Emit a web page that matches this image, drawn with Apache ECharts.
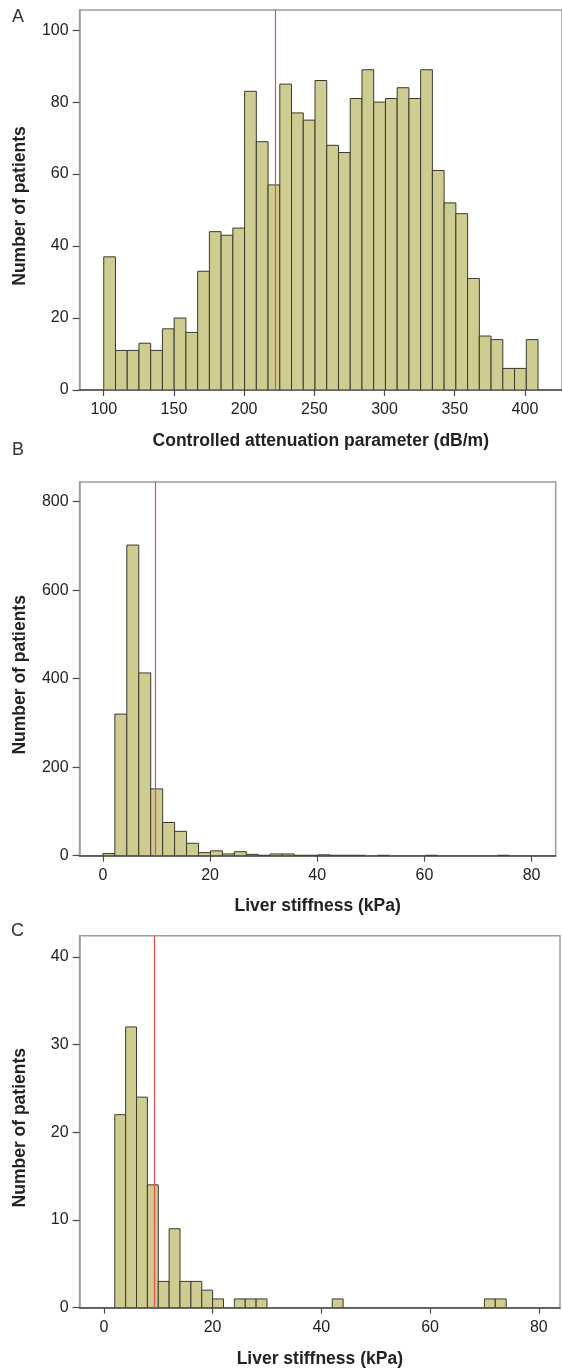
<!DOCTYPE html>
<html>
<head>
<meta charset="utf-8">
<script src="https://cdn.jsdelivr.net/npm/echarts@6/dist/echarts.min.js"></script>
<style>
html,body{margin:0;padding:0;background:#fff;}
#chart{width:562px;height:1371px;}
</style>
</head>
<body>
<div id="chart"></div>
<script>
// ---------- DATA ----------
// Panel A: controlled attenuation parameter histogram
const capBinStart = 100;
const capBinWidth = 8.36;
const capCounts = [37,11,11,13,11,17,20,16,33,44,43,45,83,69,57,85,77,75,86,68,66,81,89,80,81,84,81,89,61,52,49,31,15,14,6,6,14];
const capCutoff = 222;
const capXTicks = [100,150,200,250,300,350,400];
const capYTicks = [0,20,40,60,80,100];

// Panel B: liver stiffness histogram (all patients)
const lsmBinStart = 0;
const lsmBinWidth = 2.23;
const lsmCounts = [5,320,702,413,151,75,55,28,7,11,4,9,3,1,4,4,1,1,2,1,1,1,0,1,0,0,0,1,0,0,0,0,0,1];
const lsmCutoff = 9.7;
const lsmXTicks = [0,20,40,60,80];
const lsmYTicks = [0,200,400,600,800];

// Panel C: liver stiffness histogram (subgroup)
const subBinStart = 2;
const subBinWidth = 2;
const subCounts = [22,32,24,14,3,9,3,3,2,1,0,1,1,1,0,0,0,0,0,0,1,0,0,0,0,0,0,0,0,0,0,0,0,0,1,1];
const subCutoff = 9.3;
const subXTicks = [0,20,40,60,80];
const subYTicks = [0,10,20,30,40];

const panelLabels = ['A','B','C'];
const xTitles = ['Controlled attenuation parameter (dB/m)','Liver stiffness (kPa)','Liver stiffness (kPa)'];
const yTitle = 'Number of patients';

// ---------- BUILD ----------
function bins(start, width, counts){
  return counts.map((c,i)=>[start + i*width, start + (i+1)*width, c]);
}
const FONT = '"Liberation Sans", Arial, sans-serif';
const BAR_FILL = '#cfcc92';
const BAR_STROKE = '#3b3a2c';
const AXIS_COLOR = '#4a4a4a';
const FRAME_COLOR = '#9c9c9c';
const CUT_COLOR = '#ee4b4b';

function renderBar(params, api){
  const c = api.value(2);
  if (!c) return null;
  const p0 = api.coord([api.value(0), 0]);
  const p1 = api.coord([api.value(1), c]);
  return {
    type:'rect',
    shape:{x:p0[0], y:p1[1], width:p1[0]-p0[0], height:p0[1]-p1[1]},
    style:{fill:BAR_FILL, stroke:BAR_STROKE, lineWidth:1}
  };
}

const grids = [
  {left:79.6, top:10, width:485.4, height:380},
  {left:79.6, top:482, width:476.1, height:373.7},
  {left:79.6, top:935.7, width:480.4, height:372}
];
const xRanges = [[82.8,426.4],[-4.35,84.5],[-4.47,83.9]];
const yMax = [105.6, 844.5, 42.4];
const xTickSets = [capXTicks, lsmXTicks, subXTicks];
const yTickSets = [capYTicks, lsmYTicks, subYTicks];
const dataSets = [
  bins(capBinStart, capBinWidth, capCounts),
  bins(lsmBinStart, lsmBinWidth, lsmCounts),
  bins(subBinStart, subBinWidth, subCounts)
];
const cutoffs = [capCutoff, lsmCutoff, subCutoff];
const xNameGaps = [42, 41, 42];
const letterPos = [{left:12, top:8},{left:12, top:441},{left:11, top:922}];

const option = {
  backgroundColor:'#fff',
  animation:false,
  title: panelLabels.map((t,i)=>({
    text:t, left:letterPos[i].left, top:letterPos[i].top, padding:0,
    textStyle:{fontFamily:FONT, fontSize:18, fontWeight:'normal', color:'#333'}
  })),
  grid: grids.map(g=>Object.assign({show:true, borderColor:FRAME_COLOR, borderWidth:1.5, backgroundColor:'#fff'}, g)),
  xAxis: grids.map((g,i)=>({
    type:'value', gridIndex:i, min:xRanges[i][0], max:xRanges[i][1],
    name:xTitles[i], nameLocation:'middle', nameGap:xNameGaps[i],
    nameTextStyle:{fontFamily:FONT, fontSize:17.5, fontWeight:'bold', color:'#222'},
    splitLine:{show:false},
    axisLine:{show:true, onZero:false, lineStyle:{color:AXIS_COLOR, width:1.5}},
    axisTick:{show:true, inside:false, length:6, customValues:xTickSets[i], lineStyle:{color:AXIS_COLOR, width:1.2}},
    axisLabel:{customValues:xTickSets[i], margin:12, fontFamily:FONT, fontSize:16, color:'#222'}
  })),
  yAxis: grids.map((g,i)=>({
    type:'value', gridIndex:i, min:0, max:yMax[i],
    name:yTitle, nameLocation:'middle', nameRotate:90, nameGap:50,
    nameTextStyle:{fontFamily:FONT, fontSize:17.5, fontWeight:'bold', color:'#222', padding:[0,12,0,0]},
    splitLine:{show:false},
    axisLine:{show:true, onZero:false, lineStyle:{color:FRAME_COLOR, width:1.5}},
    axisTick:{show:true, inside:false, length:7, customValues:yTickSets[i], lineStyle:{color:AXIS_COLOR, width:1.2}},
    axisLabel:{customValues:yTickSets[i], margin:11, fontFamily:FONT, fontSize:16, color:'#222'}
  })),
  series: dataSets.map((d,i)=>({
    type:'custom', xAxisIndex:i, yAxisIndex:i,
    renderItem: renderBar,
    encode:{x:[0,1], y:2},
    data:d,
    clip:true,
    markLine:{
      silent:true, symbol:'none', z:10,
      label:{show:false},
      lineStyle:{color:CUT_COLOR, width:1.2, type:'solid', opacity:1},
      emphasis:{disabled:true},
      data:[{xAxis:cutoffs[i], lineStyle:{color:CUT_COLOR}}]
    }
  }))
};

const chart = echarts.init(document.getElementById('chart'), null, {renderer:'canvas'});
chart.setOption(option);
</script>
</body>
</html>
